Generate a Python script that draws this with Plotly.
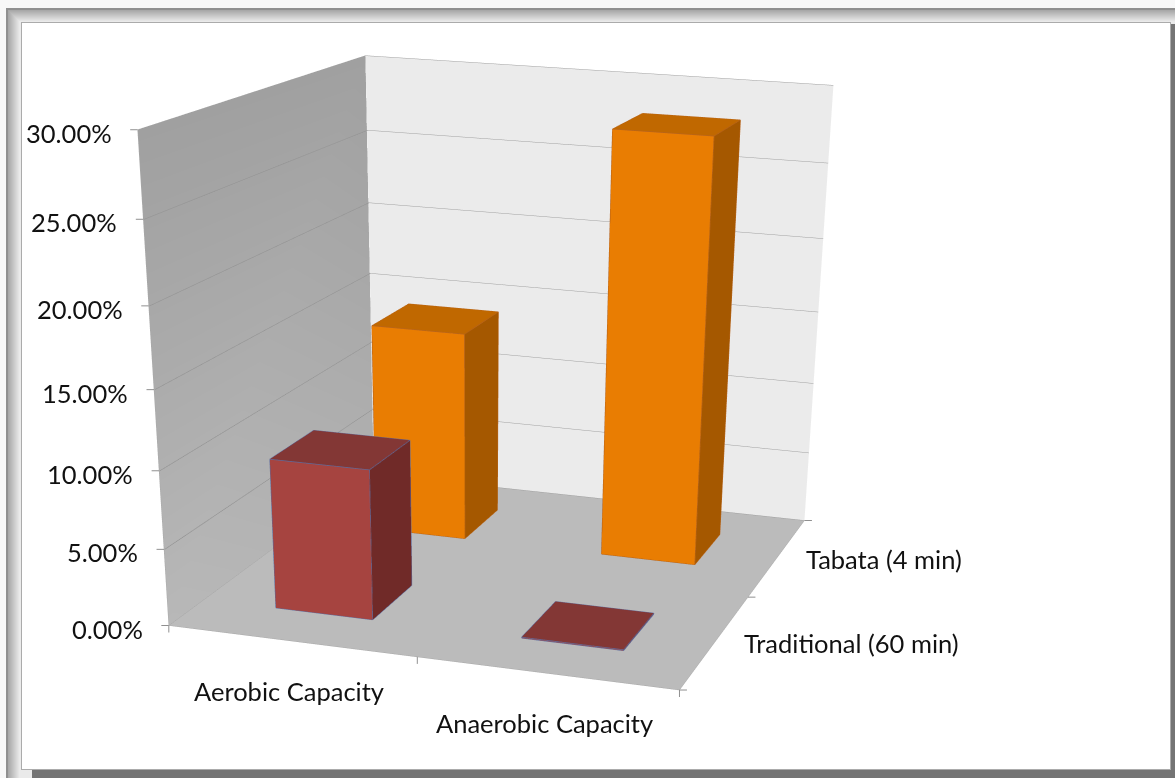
import plotly.graph_objects as go

# Chart content
categories = ["Aerobic Capacity", "Anaerobic Capacity"]
series_names = ["Traditional (60 min)", "Tabata (4 min)"]
traditional = [9.8, 0.0]
tabata = [14.3, 28.2]
percent_ticks = [0, 5, 10, 15, 20, 25, 30]
percent_labels = ["0.00%", "5.00%", "10.00%", "15.00%", "20.00%", "25.00%", "30.00%"]
floor_ticks = [-0.5, 0.5, 1.5]

# Page geometry
PAGE_W, PAGE_H = 1175, 2000
HALF_W, HALF_D = 0.200, 0.201

FONT = dict(family="Lato, Carlito, sans-serif", size=25.5, color="#111111")
TICK_COLOUR = "#909090"

# Face colours: front, side, top
RED = ("#a64440", "#702a28", "#833735")
ORANGE = ("#e97d02", "#a55800", "#c06800")
RED_EDGE = "#5e6a9c"
ORANGE_EDGE = "#b8641c"


def px(x):
    return x / PAGE_W


def py(y):
    return 1 - y / PAGE_H


def band(x0, y0, x1, y1, fill):
    return dict(type="rect", xref="paper", yref="paper", layer="below",
                x0=px(x0), x1=px(x1), y0=py(y0), y1=py(y1),
                fillcolor=fill, line=dict(width=0))


def frame_shapes():
    shapes = [band(0, 0, 1175, 778, "#f7f7f7"), band(6, 8, 1175, 778, "#8f8f8f")]
    # soft inner shading on the top and left of the mat
    for i, level in enumerate(range(168, 240, 6)):
        shapes.append(band(8 + i, 10 + i, 1175, 778, f"rgb({level},{level},{level})"))
    # dark drop shadow along the right and bottom
    shapes.append(band(1170, 24, 1175, 778, "#747474"))
    shapes.append(band(32, 769, 1175, 778, "#747474"))
    shapes.append(band(21, 22, 1171, 770, "#ababab"))
    shapes.append(band(22, 23, 1170, 769, "#ffffff"))
    return shapes


def bar_mesh(cx, cy, value, colours, edge):
    """Front, side and top faces of one bar, plus its visible outline."""
    x0, x1 = cx - HALF_W, cx + HALF_W
    y0, y1 = cy - HALF_D, cy + HALF_D
    top = max(value, 0.06)
    xs = [x0, x1, x1, x0, x0, x1, x1, x0]
    ys = [y0, y0, y1, y1, y0, y0, y1, y1]
    zs = [0, 0, 0, 0, top, top, top, top]
    quads = [((0, 1, 5, 4), colours[0]), ((1, 2, 6, 5), colours[1]), ((4, 5, 6, 7), colours[2])]
    i, j, k, face = [], [], [], []
    for (a, b, c, d), col in quads:
        i += [a, a]
        j += [b, c]
        k += [c, d]
        face += [col, col]
    mesh = go.Mesh3d(x=xs, y=ys, z=zs, i=i, j=j, k=k, facecolor=face, flatshading=True,
                     lighting=dict(ambient=1, diffuse=0, specular=0, fresnel=0, roughness=1),
                     hoverinfo="skip", showscale=False)
    edges = [(0, 1), (1, 2), (1, 5), (0, 4), (2, 6), (4, 5), (5, 6), (6, 7), (7, 4)]
    ex, ey, ez = [], [], []
    for a, b in edges:
        ex += [xs[a], xs[b], None]
        ey += [ys[a], ys[b], None]
        ez += [zs[a], zs[b], None]
    line = go.Scatter3d(x=ex, y=ey, z=ez, mode="lines", line=dict(color=edge, width=1.5),
                        hoverinfo="skip", showlegend=False)
    return [mesh, line]


def tick_mark(x, y, z, ax, ay):
    """A short tick drawn as a plain annotation arrow leaving the axis edge."""
    return dict(x=x, y=y, z=z, text="\u00a0", font=dict(size=1), showarrow=True, arrowhead=0,
                arrowwidth=1, arrowcolor=TICK_COLOUR, standoff=0, ax=ax, ay=ay)


fig = go.Figure()

# Left wall with a vertical shade from light at the floor to darker at the top
fig.add_trace(go.Mesh3d(
    x=[-0.5] * 4, y=[-0.5, 1.5, 1.5, -0.5], z=[0, 0, 30, 30],
    i=[0, 0], j=[1, 2], k=[2, 3],
    vertexcolor=["#b8b8b8", "#b0b0b0", "#a0a0a0", "#a0a0a0"],
    lighting=dict(ambient=1, diffuse=0, specular=0, fresnel=0, roughness=1),
    hoverinfo="skip", showscale=False))

# Gridlines across the left wall
wall_y, wall_z = [], []
for v in percent_ticks[1:-1]:
    wall_y += [-0.5, 1.5, None]
    wall_z += [v, v, None]
fig.add_trace(go.Scatter3d(x=[-0.497 if y is not None else None for y in wall_y], y=wall_y, z=wall_z,
                           mode="lines", line=dict(color="#929292", width=1),
                           hoverinfo="skip", showlegend=False))

for c, (trad, tab) in enumerate(zip(traditional, tabata)):
    for tr in bar_mesh(c, 1, tab, ORANGE, ORANGE_EDGE):
        fig.add_trace(tr)
    for tr in bar_mesh(c, 0, trad, RED, RED_EDGE):
        fig.add_trace(tr)

annotations = []
for v, label in zip(percent_ticks, percent_labels):
    annotations.append(dict(x=-0.5, y=-0.5, z=v, text=label, showarrow=False,
                            xanchor="right", yanchor="middle", xshift=-24, yshift=-3, font=FONT))
    annotations.append(tick_mark(-0.5, -0.5, v, -9, 0))
for c, label in enumerate(categories):
    annotations.append(dict(x=c, y=-0.5, z=0, text=label, showarrow=False,
                            xanchor="center", yanchor="middle", xshift=-2, yshift=-50, font=FONT))
for s, label in enumerate(series_names):
    annotations.append(dict(x=1.5, y=s, z=0, text=label, showarrow=False,
                            xanchor="left", yanchor="middle", xshift=27, yshift=-2, font=FONT))
for t in floor_ticks:
    annotations.append(tick_mark(t, -0.5, 0, 0, 9))
    annotations.append(tick_mark(1.5, t, 0, 9, 0))

common_axis = dict(title=dict(text=""), showticklabels=False, showspikes=False, zeroline=False,
                   showline=True, linecolor="#a8a8a8", linewidth=1, ticks="")

fig.update_layout(
    width=PAGE_W, height=PAGE_H, margin=dict(l=0, r=0, t=0, b=0),
    paper_bgcolor="#f7f7f7", showlegend=False, shapes=frame_shapes(),
    scene=dict(
        domain=dict(x=[0, 1], y=[0, 1]),
        bgcolor="rgba(0,0,0,0)",
        aspectmode="manual",
        aspectratio=dict(x=1, y=1.085, z=0.894),
        camera=dict(
            eye=dict(x=1.464, y=-4.515, z=1.114),
            center=dict(x=0.298, y=-0.383, z=-1.196),
            up=dict(x=-0.153, y=0.449, z=0.88),
            projection=dict(type="perspective"),
        ),
        xaxis=dict(common_axis, range=[-0.5, 1.5], tickvals=floor_ticks, showgrid=False,
                   showbackground=False),
        yaxis=dict(common_axis, range=[-0.5, 1.5], tickvals=floor_ticks, showgrid=False,
                   showbackground=True, backgroundcolor="#ebebeb"),
        zaxis=dict(common_axis, range=[0, 30], tickvals=percent_ticks, showgrid=True,
                   gridcolor="#a0a0a0", gridwidth=1, showbackground=True,
                   backgroundcolor="#bbbbbb"),
        annotations=annotations,
    ),
)

fig.write_html("out.html", config=dict(displayModeBar=False))
